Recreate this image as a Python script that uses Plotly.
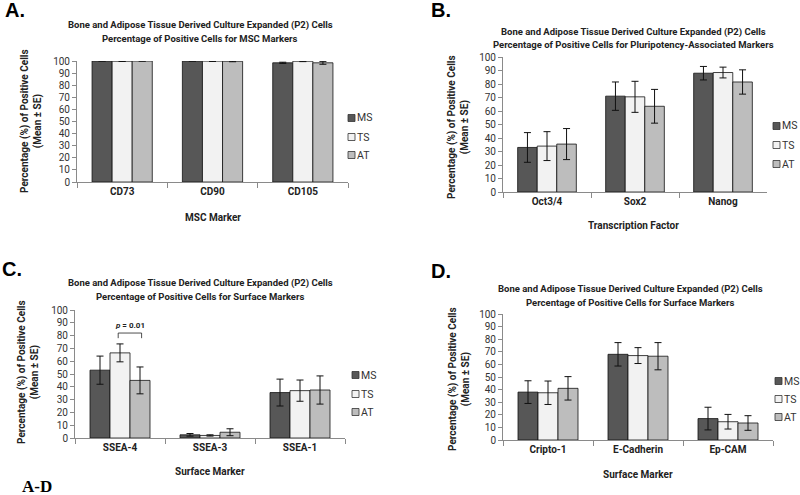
import plotly.graph_objects as go

W, H = 800, 495
FONT = "Liberation Sans Narrow, Roboto, sans-serif"

series = ["MS", "TS", "AT"]
colors = {"MS": "#575757", "TS": "#f2f2f2", "AT": "#bdbdbd"}

# Panel A
cats_a = ["CD73", "CD90", "CD105"]
ms_a = [100, 100, 98.5]
ts_a = [99.8, 99.9, 99.8]
at_a = [100, 99.8, 98.5]
ms_a_err = [0.0, 0.0, 0.5]
ts_a_err = [0.2, 0.3, 0.3]
at_a_err = [0.0, 0.4, 1.2]

# Panel B
cats_b = ["Oct3/4", "Sox2", "Nanog"]
ms_b = [33, 71, 88]
ts_b = [34, 70.5, 88.5]
at_b = [35.5, 63.5, 81.5]
ms_b_err = [11, 10.5, 5]
ts_b_err = [10.7, 11.5, 4]
at_b_err = [11.5, 12.5, 9]

# Panel C
cats_c = ["SSEA-4", "SSEA-3", "SSEA-1"]
ms_c = [53, 2.5, 35.5]
ts_c = [66.5, 2, 37]
at_c = [45, 4.5, 37.5]
ms_c_err = [11, 1, 10.5]
ts_c_err = [7, 0.5, 8.3]
at_c_err = [10.5, 2.7, 11]

# Panel D
cats_d = ["Cripto-1", "E-Cadherin", "Ep-CAM"]
ms_d = [38, 68, 17]
ts_d = [37.5, 67, 14.5]
at_d = [41, 66.5, 13.5]
ms_d_err = [9, 9.3, 9]
ts_d_err = [9.3, 6.3, 5.8]
at_d_err = [9.3, 10.8, 5.8]

yticks = [0, 10, 20, 30, 40, 50, 60, 70, 80, 90, 100]

panels = [
    dict(cats=cats_a, vals=[ms_a, ts_a, at_a], errs=[ms_a_err, ts_a_err, at_a_err],
         xd=(77, 348), yd=(61, 182), title_y=(25, 38), title_x=200,
         sub="Percentage of Positive Cells for MSC Markers",
         xtitle="MSC Marker", xtitle_pos=(213, 218), ytitle_pos=(31, 121),
         leg_x=348, leg_y=(118, 137, 155), letter="A.", letter_pos=(3, 10)),
    dict(cats=cats_b, vals=[ms_b, ts_b, at_b], errs=[ms_b_err, ts_b_err, at_b_err],
         xd=(503, 767), yd=(57, 192), title_y=(32, 44), title_x=633,
         sub="Percentage of Positive Cells for Pluripotency-Associated Markers",
         xtitle="Transcription Factor", xtitle_pos=(633, 225), ytitle_pos=(458, 127),
         leg_x=773, leg_y=(126, 145, 164), letter="B.", letter_pos=(429, 10)),
    dict(cats=cats_c, vals=[ms_c, ts_c, at_c], errs=[ms_c_err, ts_c_err, at_c_err],
         xd=(75, 345), yd=(310, 438), title_y=(283, 296), title_x=200,
         sub="Percentage of Positive Cells for Surface Markers",
         xtitle="Surface Marker", xtitle_pos=(210, 471), ytitle_pos=(28, 372),
         leg_x=352, leg_y=(375, 394, 412), letter="C.", letter_pos=(0, 269)),
    dict(cats=cats_d, vals=[ms_d, ts_d, at_d], errs=[ms_d_err, ts_d_err, at_d_err],
         xd=(503, 773), yd=(314, 440), title_y=(289, 302), title_x=630,
         sub="Percentage of Positive Cells for Surface Markers",
         xtitle="Surface Marker", xtitle_pos=(638, 474), ytitle_pos=(459, 379),
         leg_x=775, leg_y=(381, 399, 417), letter="D.", letter_pos=(429, 271)),
]


def px(x):
    return x / W


def py(y):
    return 1 - y / H


fig = go.Figure()
layout = dict(
    width=W, height=H, margin=dict(l=0, r=0, t=0, b=0, autoexpand=False),
    paper_bgcolor="white", plot_bgcolor="white",
    barmode="group", bargap=1/3, bargroupgap=0, showlegend=False,
    font=dict(family=FONT, size=10, color="#222"),
    annotations=[], shapes=[],
)


def note(text, x, y, size=10, xanchor="center", yanchor="middle", angle=0, family=None,
         color="#222"):
    f = dict(size=size, color=color)
    if family:
        f["family"] = family
    return dict(text=text, x=px(x), y=py(y), xref="paper", yref="paper",
                xanchor=xanchor, yanchor=yanchor, showarrow=False, textangle=angle, font=f)


for i, p in enumerate(panels, start=1):
    sfx = "" if i == 1 else str(i)
    for s, v, e in zip(series, p["vals"], p["errs"]):
        fig.add_trace(go.Bar(
            x=p["cats"], y=v, name=s,
            xaxis=f"x{sfx}", yaxis=f"y{sfx}",
            marker=dict(color=colors[s], line=dict(color="#111", width=0.8)),
            error_y=dict(type="data", array=e, color="#111", thickness=1, width=3.5),
        ))
    layout[f"xaxis{sfx}"] = dict(
        domain=[px(p["xd"][0]), px(p["xd"][1])], anchor=f"y{sfx}",
        type="category", showline=True, linecolor="#8a8a8a", linewidth=1,
        ticks="outside", tickson="boundaries", ticklen=5, tickcolor="#8a8a8a",
        tickfont=dict(size=10, weight="bold", color="#222"), showgrid=False,
    )
    layout[f"yaxis{sfx}"] = dict(
        domain=[py(p["yd"][1]), py(p["yd"][0])], anchor=f"x{sfx}",
        range=[0, 100], tickvals=yticks, showline=True, linecolor="#8a8a8a",
        linewidth=1, ticks="outside", ticklen=4, tickcolor="#8a8a8a",
        tickfont=dict(size=10, color="#333"), showgrid=False, zeroline=False,
    )
    ann = layout["annotations"]
    ann.append(note("<b>Bone and Adipose Tissue Derived Culture Expanded (P2) Cells</b>",
                    p["title_x"], p["title_y"][0], size=9.5))
    ann.append(note(f"<b>{p['sub']}</b>", p["title_x"], p["title_y"][1], size=9.5))
    ann.append(note(f"<b>{p['xtitle']}</b>", p["xtitle_pos"][0], p["xtitle_pos"][1]))
    ann.append(note("<b>Percentage (%) of Positive Cells<br>(Mean ± SE)</b>",
                    p["ytitle_pos"][0], p["ytitle_pos"][1], angle=-90))
    ann.append(note(f"<b>{p['letter']}</b>", p["letter_pos"][0], p["letter_pos"][1],
                    size=20, xanchor="left", family="Liberation Sans, Arial, sans-serif",
                    color="black"))
    # legend drawn as swatches + labels
    for s, yy in zip(series, p["leg_y"]):
        lx = p["leg_x"]
        layout["shapes"].append(dict(
            type="rect", xref="paper", yref="paper",
            x0=px(lx), x1=px(lx + 7), y0=py(yy + 3.5), y1=py(yy - 3.5),
            fillcolor=colors[s], line=dict(color="#333", width=0.8)))
        ann.append(note(s, lx + 7, yy, size=10.5, xanchor="left", color="#333"))

layout["annotations"].append(note("<b>A-D</b>", 20, 486, size=17, xanchor="left",
                                  family="Liberation Serif, DejaVu Serif, serif", color="black"))

# p-value bracket on panel C (between TS and AT of SSEA-4)
layout["annotations"].append(dict(
    text="<b><i>p</i> = 0.01</b>", x=0.11, y=83, xref="x3", yref="y3", yanchor="bottom",
    xanchor="center", showarrow=False, font=dict(size=8, color="#222")))
layout["shapes"].append(dict(
    type="path", xref="x3", yref="y3", path="M -0.02,78 L -0.02,82 L 0.24,82 L 0.24,78",
    line=dict(color="#222", width=0.8)))

fig.update_layout(**layout)
fig.write_html("out.html", config={"displayModeBar": False},
               post_script="document.body.style.margin='0';")
